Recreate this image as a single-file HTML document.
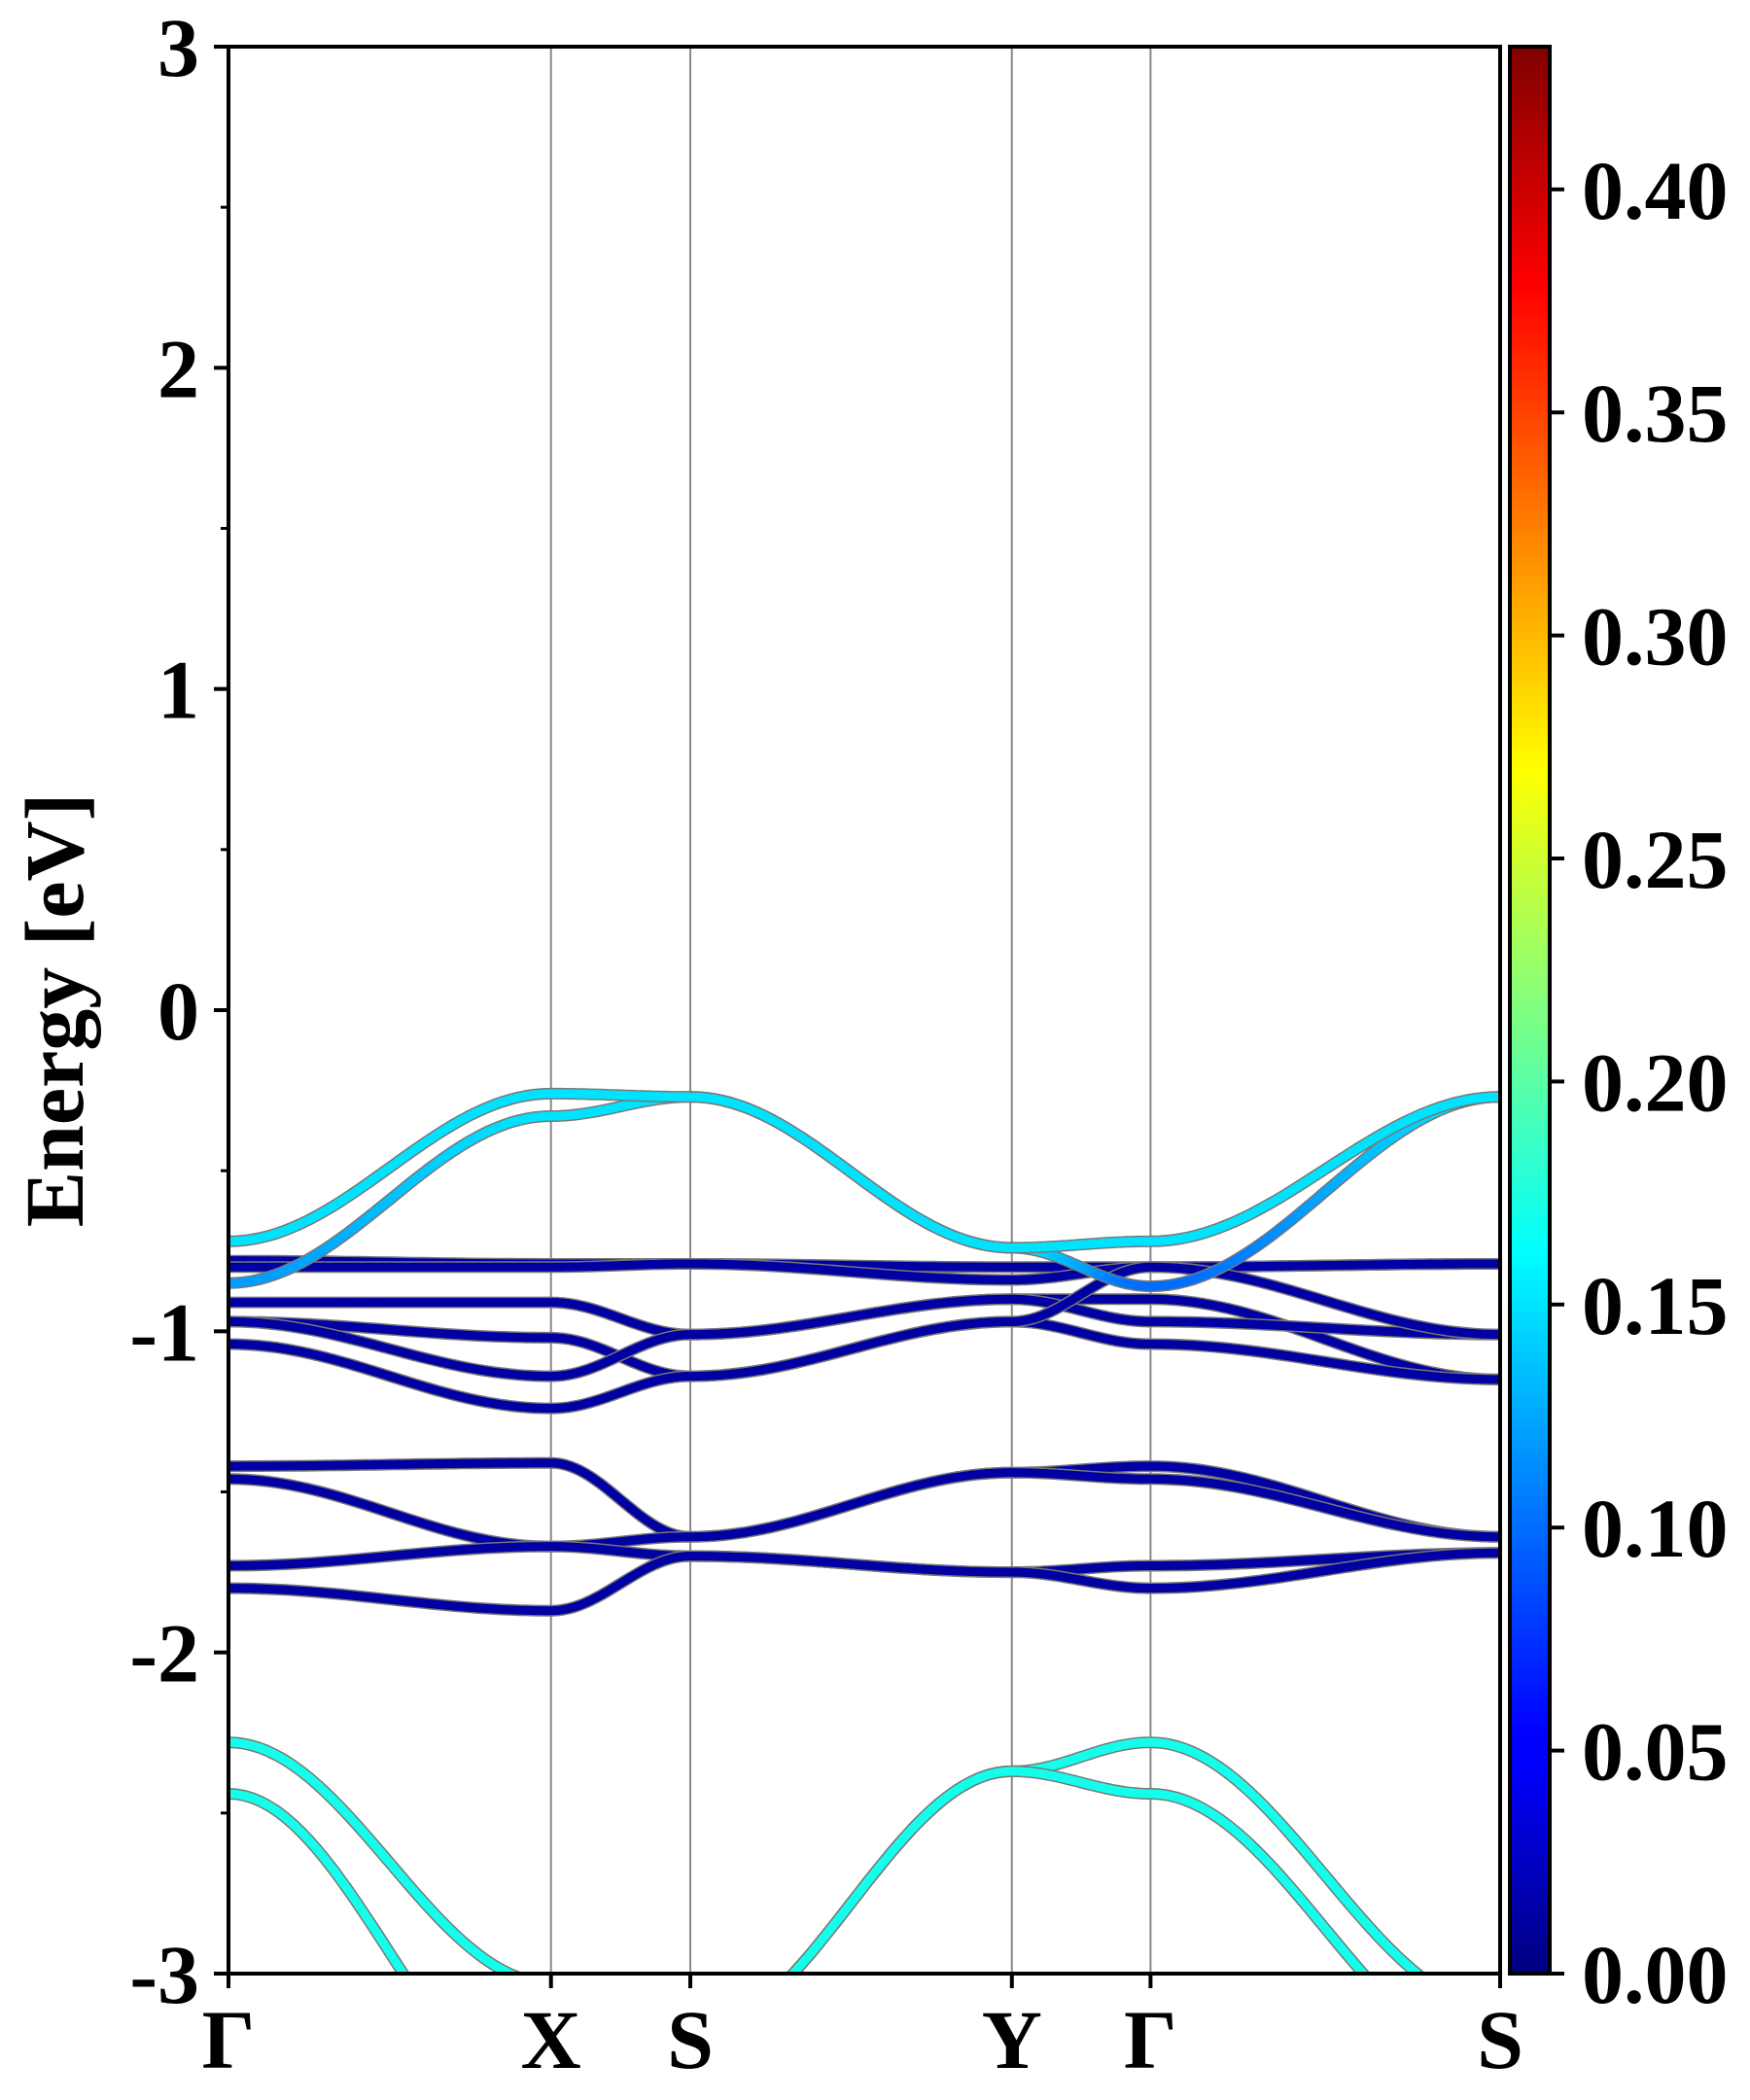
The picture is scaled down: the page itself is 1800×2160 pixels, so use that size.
<!DOCTYPE html>
<html><head><meta charset="utf-8"><style>
html,body{margin:0;padding:0;background:#fff;}
svg{display:block;}
text{font-family:"Liberation Serif","Times New Roman",serif;font-weight:bold;fill:#000;}
</style></head><body>
<svg id="chart" width="1800" height="2160" viewBox="0 0 1800 2160" xmlns="http://www.w3.org/2000/svg">
<defs>
<linearGradient id="jet" x1="0" y1="1" x2="0" y2="0">
<stop offset="0" stop-color="#000080"/><stop offset="0.11" stop-color="#0000ff"/>
<stop offset="0.125" stop-color="#0000ff"/><stop offset="0.375" stop-color="#00ffff"/>
<stop offset="0.625" stop-color="#ffff00"/><stop offset="0.875" stop-color="#ff0000"/>
<stop offset="1" stop-color="#800000"/>
</linearGradient>
<clipPath id="plotclip"><rect x="235" y="48" width="1308" height="1982"/></clipPath>
</defs>
<g id="grid"></g>
<g id="bands" clip-path="url(#plotclip)"></g>
<g id="axes"></g>
</svg>
<script>
const kNodes = [0, 1, 1.432, 2.429, 2.859, 3.943];
const kLabels = ["Γ", "X", "S", "Y", "Γ", "S"];
const yTicks = [-3, -2, -1, 0, 1, 2, 3];
const cbTicks = [0, 0.05, 0.10, 0.15, 0.20, 0.25, 0.30, 0.35, 0.40];
const cbTickLabels = ["0.00","0.05","0.10","0.15","0.20","0.25","0.30","0.35","0.40"];
const cbMax = 0.432;
// band energies at each high-symmetry node (Γ X S Y Γ S)
const bandC1 = [-0.72, -0.26, -0.27, -0.74, -0.72, -0.27];
const bandC2 = [-0.85, -0.33, -0.27, -0.74, -0.86, -0.27];
const bandF1 = [-0.78, -0.79, -0.79, -0.80, -0.80, -0.79];
const bandF2 = [-0.80, -0.80, -0.79, -0.84, -0.80, -0.79];
const bandB2 = [-0.91, -0.91, -1.01, -0.90, -0.90, -1.15];
const bandB3 = [-0.97, -1.02, -1.14, -0.97, -1.04, -1.15];
const bandB4 = [-0.97, -1.14, -1.01, -0.90, -0.97, -1.01];
const bandB5 = [-1.04, -1.24, -1.14, -0.97, -0.80, -1.01];
const bandL1 = [-1.42, -1.41, -1.64, -1.44, -1.42, -1.64];
const bandL2 = [-1.46, -1.67, -1.64, -1.44, -1.46, -1.64];
const bandL3 = [-1.73, -1.67, -1.70, -1.75, -1.73, -1.69];
const bandL4 = [-1.80, -1.87, -1.70, -1.75, -1.80, -1.69];
const bandV1 = [-2.28, -3.03, -3.19, -2.37, -2.28, -3.11];
const bandV2 = [-2.44, -3.43, -3.19, -2.37, -2.44, -3.28];
// projected weights at nodes
const wC1 = [0.15, 0.15, 0.15, 0.15, 0.15, 0.15];
const wC2 = [0.12, 0.15, 0.15, 0.15, 0.10, 0.15];
const wBlue = [0.015, 0.015, 0.015, 0.015, 0.015, 0.015];
const wV = [0.17, 0.17, 0.17, 0.17, 0.17, 0.17];
const bands = [
 [bandF1,wBlue],[bandF2,wBlue],[bandB2,wBlue],[bandB3,wBlue],[bandB4,wBlue],[bandB5,wBlue],
 [bandL1,wBlue],[bandL2,wBlue],[bandL3,wBlue],[bandL4,wBlue],
 [bandC2,wC2],[bandC1,wC1],[bandV1,wV],[bandV2,wV]];

const X0=235,X1=1543,Y0=48,Y1=2030, kMax=kNodes[kNodes.length-1];
const xs=k=>X0+(k/kMax)*(X1-X0);
const ys=e=>Y1-(e+3)/6*(Y1-Y0);
const cbY=v=>Y1-v/cbMax*(Y1-Y0);
const NS="http://www.w3.org/2000/svg";
function mk(tag,attrs,parent,txt){const e=document.createElementNS(NS,tag);for(const a in attrs)e.setAttribute(a,attrs[a]);if(txt!==undefined)e.textContent=txt;parent.appendChild(e);return e;}
function jet(t){t=Math.max(0,Math.min(1,t));
 const r=Math.max(0,Math.min(1,1.5-Math.abs(4*t-3))),g=Math.max(0,Math.min(1,1.5-Math.abs(4*t-2))),b=Math.max(0,Math.min(1,1.5-Math.abs(4*t-1)));
 return `rgb(${Math.round(r*255)},${Math.round(g*255)},${Math.round(b*255)})`;}
const grid=document.getElementById('grid'),bg=document.getElementById('bands'),ax=document.getElementById('axes');
const FF='"Liberation Serif", serif';
for(let i=1;i<kNodes.length-1;i++){
 const l=mk('line',{x1:xs(kNodes[i]),x2:xs(kNodes[i]),y1:Y0,y2:Y1,stroke:'#888','stroke-width':2},grid);
 
 
}
bands.forEach((b,bi)=>{
 const E=b[0],W=b[1];const pts=[];
 for(let s=0;s<kNodes.length-1;s++){const N=40;
  for(let j=0;j<=N;j++){if(s>0&&j===0)continue;const t=j/N,f=(1-Math.cos(Math.PI*t))/2;
   const k=kNodes[s]+(kNodes[s+1]-kNodes[s])*t;
   pts.push([xs(k),ys(E[s]+(E[s+1]-E[s])*f),W[s]+(W[s+1]-W[s])*f]);}}
 const g=mk('g',{},bg);
 
 
 mk('polyline',{points:pts.map(p=>p[0].toFixed(1)+','+p[1].toFixed(1)).join(' '),fill:'none',stroke:'#777','stroke-width':12,'stroke-linejoin':'round'},g);
 for(let i=0;i<pts.length-1;i++){
  mk('line',{x1:pts[i][0],y1:pts[i][1],x2:pts[i+1][0],y2:pts[i+1][1],stroke:jet(((pts[i][2]+pts[i+1][2])/2)/cbMax),'stroke-width':9,'stroke-linecap':'round'},g);}
});
const frame=mk('rect',{x:X0,y:Y0,width:X1-X0,height:Y1-Y0,fill:'none',stroke:'#000','stroke-width':4},ax);


yTicks.forEach(v=>{const y=ys(v);
 mk('line',{x1:X0-15,x2:X0,y1:y,y2:y,stroke:'#000','stroke-width':4},ax);
 const t=mk('text',{x:X0-30,y:y+30,'text-anchor':'end','font-size':86,'font-family':FF},ax,String(v));
 
 
 if(v<3){const ym=ys(v+0.5);mk('line',{x1:X0-8,x2:X0,y1:ym,y2:ym,stroke:'#000','stroke-width':3},ax);}
});
kNodes.forEach((k,i)=>{const x=xs(k);
 mk('line',{x1:x,x2:x,y1:Y1,y2:Y1+15,stroke:'#000','stroke-width':4},ax);
 const t=mk('text',{x:x,y:Y1+97,'text-anchor':'middle','font-size':86,'font-family':FF},ax,kLabels[i]);
 
 
});
const yl=mk('text',{x:0,y:0,'text-anchor':'middle','font-size':86,'font-family':FF,transform:`translate(85,${(Y0+Y1)/2}) rotate(-90)`},ax,'Energy [eV]');


const cb=mk('rect',{x:1553,y:Y0,width:41,height:Y1-Y0,fill:'url(#jet)',stroke:'#000','stroke-width':4},ax);


cbTicks.forEach((v,i)=>{const y=cbY(v);
 mk('line',{x1:1594,x2:1609,y1:y,y2:y,stroke:'#000','stroke-width':4},ax);
 const t=mk('text',{x:1627,y:y+30,'font-size':86,'font-family':FF},ax,cbTickLabels[i]);
 
 
});
</script>
</body></html>
